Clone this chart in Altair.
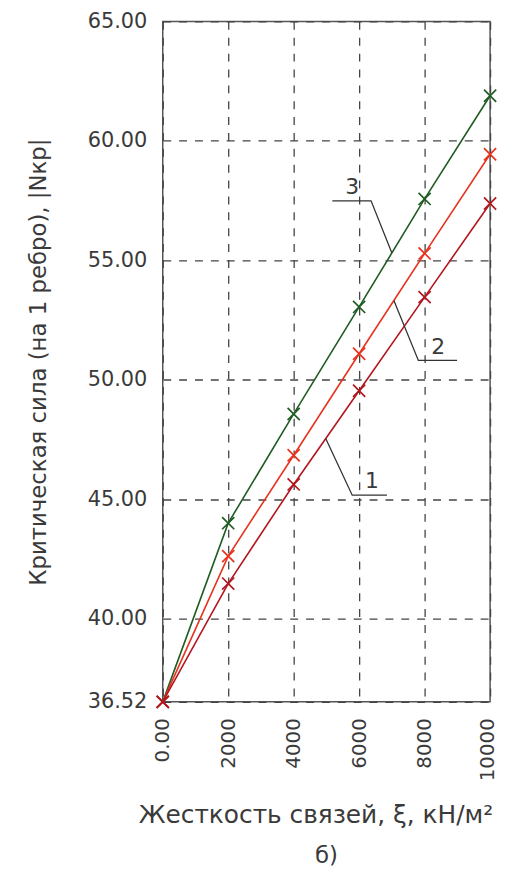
import altair as alt
import pandas as pd

xs = [0, 2000, 4000, 6000, 8000, 10000]
s1 = [36.52, 41.47, 45.62, 49.54, 53.46, 57.38]
s2 = [36.52, 42.62, 46.84, 51.09, 55.29, 59.44]
s3 = [36.52, 44.00, 48.57, 53.05, 57.57, 61.89]
series_names = ["3", "2", "1"]
y_ticks = [36.52, 40, 45, 50, 55, 60, 65]
x_ticks = [0, 2000, 4000, 6000, 8000, 10000]

# leader lines for the curve numbers (data coordinates)
lead_id = ["3", "3", "3", "2", "2", "2", "1", "1", "1"]
lead_x = [5182, 6364, 7000, 7061, 7809, 8991, 4979, 5788, 6848]
lead_y = [57.49, 57.49, 55.31, 53.32, 50.81, 50.81, 47.54, 45.17, 45.17]
lab_text = ["3", "2", "1"]
lab_x = [5788, 8415, 6394]
lab_y = [58.07, 51.35, 45.75]

FONT = "DejaVu Sans"
TXT = "#3a3a3a"

rows = []
for name, vals in zip(series_names, [s3, s2, s1]):
    for i, (x, y) in enumerate(zip(xs, vals)):
        rows.append({"s": name, "x": x, "y": y, "o": i})
df = pd.DataFrame(rows)
lead = pd.DataFrame({"g": lead_id, "x": lead_x, "y": lead_y, "o": list(range(len(lead_x)))})
labs = pd.DataFrame({"t": lab_text, "x": lab_x, "y": lab_y})

xscale = alt.Scale(domain=[0, 10000], nice=False, zero=False)
yscale = alt.Scale(domain=[36.52, 65], nice=False, zero=False)
color = alt.Color("s:N", scale=alt.Scale(domain=["1", "2", "3"],
                  range=["#b3161f", "#e8321e", "#1f5c22"]), legend=None)
order = alt.Order("sord:Q")

xaxis = alt.Axis(values=x_ticks, title="Жесткость связей, ξ, кН/м²",
                 labelExpr="datum.value == 0 ? '0.00' : format(datum.value, 'd')",
                 labelAngle=270, labelAlign="right", labelBaseline="middle",
                 labelOffset={"condition": {"test": "datum.value == 10000", "value": -3}, "value": 0},
                 labelFlush=False, labelPadding=16, labelFontSize=20, ticks=False, domain=False,
                 titlePadding=22, titleFontSize=25, titleX=154, titleAlign="center")
yaxis = alt.Axis(values=y_ticks, format=".2f", title="Критическая сила (на 1 ребро), |Nкр|",
                 labelFlush=False, labelPadding=16, ticks=False, domain=False,
                 titlePadding=37)

base = alt.Chart(df).transform_calculate(sord="datum.s == '3' ? 0 : (datum.s == '2' ? 1 : 2)")

lines = base.mark_line(strokeWidth=1.6).encode(
    x=alt.X("x:Q", scale=xscale, axis=xaxis),
    y=alt.Y("y:Q", scale=yscale, axis=yaxis),
    color=color, detail="s:N", order="o:Q")

pts = base.mark_point(shape="M-1,-1L1,1M-1,1L1,-1", filled=False, size=150,
                      strokeWidth=1.7, opacity=1).encode(
    x=alt.X("x:Q", scale=xscale), y=alt.Y("y:Q", scale=yscale),
    color=color, order=order)

leaders = alt.Chart(lead).mark_line(color="#333333", strokeWidth=1.3).encode(
    x=alt.X("x:Q", scale=xscale), y=alt.Y("y:Q", scale=yscale),
    detail="g:N", order="o:Q")

labels = alt.Chart(labs).mark_text(font=FONT, fontSize=22, color=TXT, baseline="middle",
                                   align="center").encode(
    x=alt.X("x:Q", scale=xscale), y=alt.Y("y:Q", scale=yscale), text="t:N")

chart = alt.layer(lines, pts, leaders, labels).properties(
    width=330, height=686,
    title=alt.TitleParams("б)", orient="bottom", font=FONT, fontSize=23,
                          fontWeight="normal", color=TXT, offset=18),
    autosize=alt.AutoSizeParams(type="none"),
    padding={"left": 156, "top": 10, "right": 10, "bottom": 167},
).configure_view(stroke="#555555", strokeWidth=1.5).configure_axis(
    labelFont=FONT, labelFontSize=21, labelColor=TXT,
    titleFont=FONT, titleFontSize=23, titleColor=TXT, titleFontWeight="normal",
    grid=True, gridColor="#444444", gridDash=[8, 8], gridWidth=1.3, gridOpacity=1,
)

chart.save("out.html", embed_options={"renderer": "svg", "actions": False})
